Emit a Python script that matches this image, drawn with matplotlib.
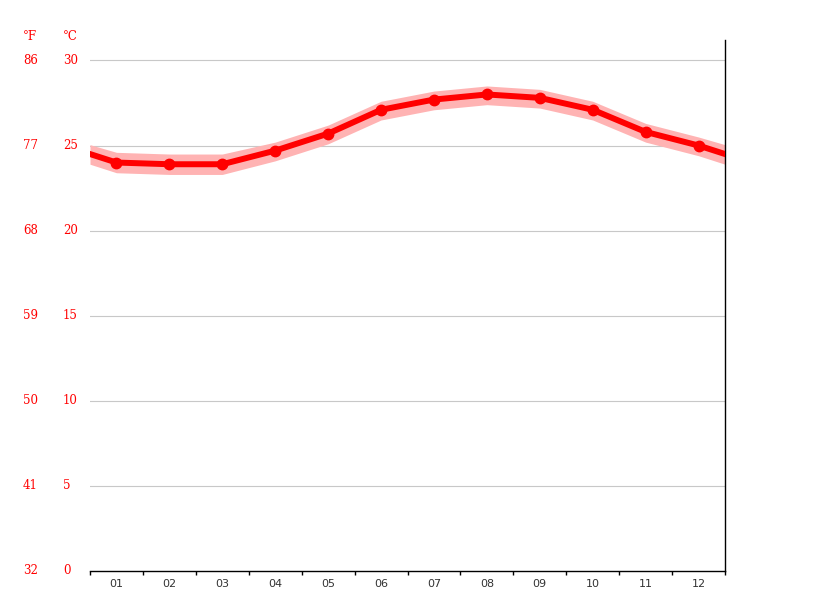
import matplotlib

matplotlib.use("Agg")
import matplotlib.pyplot as plt
import matplotlib.transforms as mtransforms
import numpy as np

# monthly mean temperature (°C) with the light band around it
months = ["01", "02", "03", "04", "05", "06", "07", "08", "09", "10", "11", "12"]
temp_mean = [24.0, 23.9, 23.9, 24.7, 25.7, 27.1, 27.7, 28.0, 27.8, 27.1, 25.8, 25.0]
temp_upper = [24.6, 24.5, 24.5, 25.2, 26.2, 27.6, 28.2, 28.5, 28.3, 27.6, 26.3, 25.5]
temp_lower = [23.4, 23.3, 23.3, 24.1, 25.1, 26.5, 27.1, 27.4, 27.2, 26.5, 25.2, 24.4]

c_ticks = [0, 5, 10, 15, 20, 25, 30]
f_ticks = ["32", "41", "50", "59", "68", "77", "86"]

RED = "#ff0000"
BAND = "#ffb3b3"

W, H = 815, 611
fig = plt.figure(figsize=(W / 100, H / 100), dpi=100)
ax = fig.add_axes([90 / W, (H - 571) / H, 635 / W, (571 - 40) / H])

x = np.arange(1, 13)


def wrap(vals):
    # close the year at both edges: edge value is the Dec/Jan midpoint
    edge = (vals[0] + vals[-1]) / 2
    return np.concatenate([[edge], vals, [edge]])


xe = np.concatenate([[0.5], x, [12.5]])
ax.fill_between(xe, wrap(temp_lower), wrap(temp_upper), color=BAND, lw=0, zorder=2)
ax.plot(xe, wrap(temp_mean), color=RED, lw=4.3, solid_joinstyle="round", zorder=3)
ax.plot(x, temp_mean, "o", color=RED, ms=7.5, zorder=4)

ax.set_xlim(0.5, 12.5)
ax.set_ylim(0, 31.2)

for v in c_ticks[1:]:
    ax.axhline(v, color="#c8c8c8", lw=0.8, zorder=1)

for s in ["left", "top"]:
    ax.spines[s].set_visible(False)
for s in ["bottom", "right"]:
    ax.spines[s].set_color("black")
    ax.spines[s].set_linewidth(1.0)

ax.set_yticks([])
ax.set_xticks(np.arange(0.5, 13, 1))
ax.set_xticklabels([])
ax.set_xticks(x, minor=True)
ax.set_xticklabels(months, minor=True)
ax.tick_params(axis="x", which="major", length=3, width=1, color="black", direction="out")
ax.tick_params(axis="x", which="minor", length=0, pad=6, labelsize=8, labelcolor="#333333")

trans = mtransforms.blended_transform_factory(fig.transFigure, ax.transData)
serif = dict(family="DejaVu Serif", fontsize=8.5, color=RED, va="center", ha="left")
for c, f in zip(c_ticks, f_ticks):
    ax.text(23 / W, c, f, transform=trans, clip_on=False, **serif)
    ax.text(63 / W, c, str(c), transform=trans, clip_on=False, **serif)

fig.text(23 / W, 1 - 36 / H, "°F", **serif)
fig.text(63 / W, 1 - 36 / H, "°C", **serif)

fig.savefig("out.png", dpi=100)
